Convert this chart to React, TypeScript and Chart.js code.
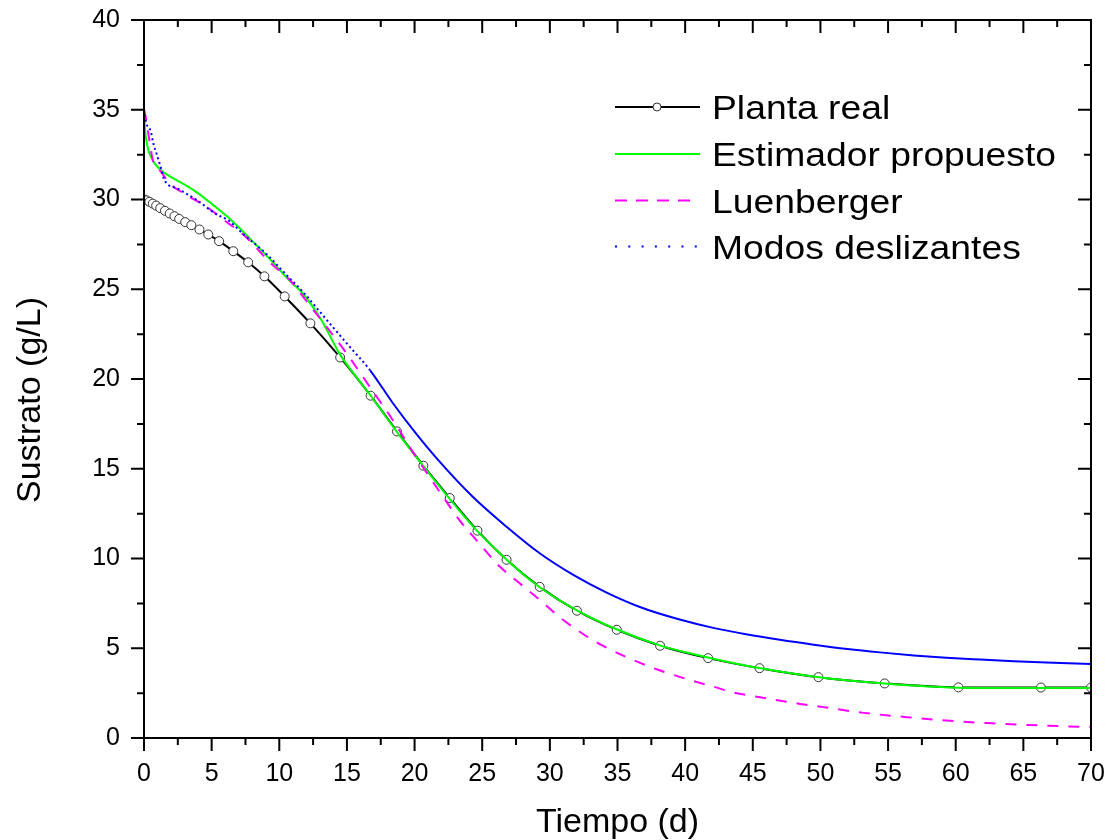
import React, { useEffect, useRef } from "react";
import { Chart, registerables } from "chart.js";

Chart.register(...registerables);

const FONT = 'Arial, "Liberation Sans", sans-serif';

const xTitle = "Tiempo (d)";
const yTitle = "Sustrato (g/L)";
const legendLabels = ["Planta real", "Estimador propuesto", "Luenberger", "Modos deslizantes"];

const xMin = 0;
const xMax = 70;
const xStep = 5;
const yMin = 0;
const yMax = 40;
const yStep = 5;

const plantaX = [0, 0.2, 0.4, 0.65, 0.9, 1.2, 1.55, 1.9, 2.25, 2.6, 3.05, 3.5, 4.1, 4.75, 5.55, 6.6, 7.7, 8.9, 10.4, 12.3, 14.5, 16.75, 18.7, 20.65, 22.6, 24.65, 26.8, 29.25, 32.0, 34.95, 38.15, 41.7, 45.5, 49.85, 54.75, 60.2, 66.3, 70];
const plantaY = [30.0, 29.95, 29.87, 29.77, 29.66, 29.52, 29.37, 29.22, 29.07, 28.92, 28.74, 28.57, 28.33, 28.05, 27.68, 27.12, 26.5, 25.72, 24.6, 23.1, 21.2, 19.07, 17.08, 15.17, 13.37, 11.55, 9.93, 8.42, 7.09, 6.03, 5.14, 4.45, 3.89, 3.39, 3.04, 2.82, 2.81, 2.81];

const estX = [0, 0.04, 0.1, 0.2, 0.3, 0.5, 0.8, 1.3, 2.0, 2.6, 3.9, 5.1, 6.3, 7.8, 9.4, 10.6, 11.75, 13.1, 14.46, 15.6, 16.68, 18.65, 20.13, 21.86, 24.57, 26.79, 29.13, 31.97, 34.93, 38.13, 40.35, 42.5, 45.6, 49.9, 54.75, 60.2, 65, 70];
const estY = [35.0, 34.3, 33.7, 33.2, 32.8, 32.4, 32.0, 31.6, 31.25, 31.0, 30.4, 29.7, 28.95, 27.85, 26.6, 25.6, 24.75, 23.3, 21.4, 20.2, 19.15, 17.1, 15.65, 14.0, 11.58, 9.95, 8.47, 7.13, 6.06, 5.16, 4.72, 4.35, 3.88, 3.38, 3.03, 2.8, 2.78, 2.78];

const luenX = [0, 0.1, 0.25, 0.4, 0.65, 1.0, 1.4, 1.75, 2.6, 4.6, 6.1, 7.55, 9.3, 10.8, 12.25, 13.5, 15.0, 16.7, 18.4, 19.9, 22.1, 23.3, 24.6, 26.3, 27.8, 29.25, 30.7, 32.2, 33.9, 35.7, 38.0, 40.35, 42.1, 43.55, 45.3, 48.5, 50.2, 53.2, 56.4, 59.3, 62.3, 65.5, 69.2, 70];
const luenY = [35.0, 34.7, 34.0, 33.3, 32.2, 31.8, 31.4, 31.0, 30.5, 29.6, 28.75, 27.9, 26.5, 25.5, 24.1, 22.9, 21.4, 19.55, 17.7, 15.9, 13.45, 12.15, 11.0, 9.55, 8.6, 7.7, 6.75, 5.92, 5.15, 4.5, 3.8, 3.23, 2.86, 2.54, 2.3, 1.9, 1.72, 1.4, 1.16, 0.97, 0.83, 0.72, 0.63, 0.62];

const modosX = [0, 0.15, 0.5, 0.7, 0.95, 1.27, 1.5, 2.5, 3.9, 5.3, 6.3, 7.3, 9.0, 10.4, 11.75, 13.5, 15.2, 16.7, 18.4, 20.1, 21.75, 24.3, 26.8, 29.25, 31.7, 34.2, 36.65, 39.6, 42.0, 44.5, 47.0, 49.5, 52.0, 54.4, 56.9, 59.3, 61.8, 64.3, 66.7, 70];
const modosY = [35.0, 34.3, 33.8, 33.1, 32.5, 31.7, 31.1, 30.6, 29.97, 29.2, 28.8, 28.1, 27.0, 25.9, 24.85, 23.3, 21.8, 20.5, 18.65, 16.97, 15.48, 13.44, 11.77, 10.29, 9.1, 8.1, 7.3, 6.6, 6.15, 5.78, 5.47, 5.2, 4.96, 4.77, 4.6, 4.47, 4.37, 4.28, 4.2, 4.12];

const modosDottedUntil = 16.7;

const toPoints = (xs: number[], ys: number[]) => xs.map((x, i) => ({ x, y: ys[i] }));

const framePlugin = {
  id: "frameTicks",
  afterDraw(chart: any) {
    const { ctx, chartArea } = chart;
    const { left, right, top, bottom } = chartArea;
    const xs = chart.scales.x;
    const ys = chart.scales.y;
    ctx.save();
    ctx.strokeStyle = "#000";
    ctx.lineWidth = 2;
    ctx.beginPath();
    ctx.rect(left, top, right - left, bottom - top);
    ctx.stroke();
    const majLen = 13;
    const minLen = 7;
    ctx.beginPath();
    const xt = xs.ticks.map((t: any) => t.value);
    xt.forEach((v: number, i: number) => {
      const px = xs.getPixelForValue(v);
      ctx.moveTo(px, bottom);
      ctx.lineTo(px, bottom + majLen);
      ctx.moveTo(px, top);
      ctx.lineTo(px, top + majLen);
      if (i < xt.length - 1) {
        const mp = xs.getPixelForValue((v + xt[i + 1]) / 2);
        ctx.moveTo(mp, bottom);
        ctx.lineTo(mp, bottom + minLen);
        ctx.moveTo(mp, top);
        ctx.lineTo(mp, top + minLen);
      }
    });
    const yt = ys.ticks.map((t: any) => t.value);
    yt.forEach((v: number, i: number) => {
      const py = ys.getPixelForValue(v);
      ctx.moveTo(left - majLen, py);
      ctx.lineTo(left, py);
      ctx.moveTo(right - majLen, py);
      ctx.lineTo(right, py);
      if (i < yt.length - 1) {
        const mp = ys.getPixelForValue((v + yt[i + 1]) / 2);
        ctx.moveTo(left - minLen, mp);
        ctx.lineTo(left, mp);
        ctx.moveTo(right - minLen, mp);
        ctx.lineTo(right, mp);
      }
    });
    ctx.stroke();

    ctx.fillStyle = "#000";
    ctx.font = `34px ${FONT}`;
    ctx.textAlign = "center";
    ctx.textBaseline = "middle";
    ctx.translate(31, 400);
    ctx.rotate(-Math.PI / 2);
    ctx.fillText(yTitle, 0, 0);
    ctx.restore();
  },
};

const legendPlugin = {
  id: "customLegend",
  afterDraw(chart: any) {
    const { ctx } = chart;
    const rows = [107, 154, 200.5, 246.5];
    const x0 = 615;
    const x1 = 700;
    const tx = 712;
    ctx.save();
    ctx.lineWidth = 2;
    ctx.strokeStyle = "#000";
    ctx.setLineDash([]);
    ctx.beginPath();
    ctx.moveTo(x0, rows[0]);
    ctx.lineTo(x1, rows[0]);
    ctx.stroke();
    ctx.beginPath();
    ctx.arc(657, rows[0], 4, 0, Math.PI * 2);
    ctx.fillStyle = "#fff";
    ctx.fill();
    ctx.lineWidth = 1;
    ctx.strokeStyle = "#333";
    ctx.stroke();
    ctx.lineWidth = 2;
    ctx.strokeStyle = "#00ff00";
    ctx.beginPath();
    ctx.moveTo(x0, rows[1]);
    ctx.lineTo(x1, rows[1]);
    ctx.stroke();
    ctx.strokeStyle = "#ff00ff";
    ctx.setLineDash([12, 9]);
    ctx.beginPath();
    ctx.moveTo(x0, rows[2]);
    ctx.lineTo(690, rows[2]);
    ctx.stroke();
    ctx.strokeStyle = "#0000ff";
    ctx.setLineDash([2, 11.3]);
    ctx.beginPath();
    ctx.moveTo(x0, rows[3]);
    ctx.lineTo(x1, rows[3]);
    ctx.stroke();
    ctx.setLineDash([]);
    ctx.fillStyle = "#000";
    ctx.font = `33px ${FONT}`;
    ctx.textAlign = "left";
    ctx.textBaseline = "alphabetic";
    legendLabels.forEach((lab, i) => {
      ctx.save();
      ctx.translate(tx, rows[i] + 12);
      ctx.scale(1.13, 1);
      ctx.fillText(lab, 0, 0);
      ctx.restore();
    });
    ctx.restore();
  },
};

export default function App() {
  const ref = useRef<HTMLCanvasElement | null>(null);

  useEffect(() => {
    if (!ref.current) return;
    const chart = new Chart(ref.current, {
      type: "line",
      data: {
        datasets: [
          {
            label: legendLabels[3],
            data: toPoints(modosX, modosY),
            borderColor: "#0000ff",
            borderWidth: 2,
            pointRadius: 0,
            fill: false,
            cubicInterpolationMode: "monotone",
            borderDash: [],
            segment: {
              borderDash: (c: any) => (c.p0.parsed.x < modosDottedUntil ? [2, 3] : []),
            },
            order: 0,
          },
          {
            label: legendLabels[2],
            data: toPoints(luenX, luenY),
            borderColor: "#ff00ff",
            borderWidth: 2,
            pointRadius: 0,
            fill: false,
            cubicInterpolationMode: "monotone",
            borderDash: [11, 10],
            order: 1,
          },
          {
            label: legendLabels[1],
            data: toPoints(estX, estY),
            borderColor: "#00ff00",
            borderWidth: 2,
            pointRadius: 0,
            fill: false,
            cubicInterpolationMode: "monotone",
            order: 2,
          },
          {
            label: legendLabels[0],
            data: toPoints(plantaX, plantaY),
            borderColor: "#000",
            borderWidth: 2,
            pointRadius: 4.5,
            pointBorderWidth: 1,
            pointBorderColor: "#333",
            pointBackgroundColor: "#fff",
            fill: false,
            cubicInterpolationMode: "monotone",
            order: 3,
          },
        ],
      },
      options: {
        responsive: false,
        animation: false,
        layout: { padding: { left: 0, right: 23, top: 20, bottom: 0 } },
        plugins: { legend: { display: false }, tooltip: { enabled: false } },
        scales: {
          x: {
            type: "linear",
            min: xMin,
            max: xMax,
            ticks: {
              stepSize: xStep,
              font: { family: FONT, size: 25 },
              color: "#000",
              padding: 0,
              maxRotation: 0,
              autoSkip: false,
            },
            grid: { display: false, drawTicks: true, tickLength: 21 },
            border: { display: false },
            title: {
              display: true,
              text: xTitle,
              color: "#000",
              font: { family: FONT, size: 34, lineHeight: 1 },
              padding: { top: 0, bottom: 0 },
            },
            afterFit: (s: any) => {
              s.height = 102;
            },
          },
          y: {
            type: "linear",
            min: yMin,
            max: yMax,
            ticks: {
              stepSize: yStep,
              font: { family: FONT, size: 25 },
              color: "#000",
              padding: 0,
            },
            grid: { display: false, drawTicks: true, tickLength: 24 },
            border: { display: false },
            title: { display: false },
            afterFit: (s: any) => {
              s.width = 144;
            },
          },
        },
      },
      plugins: [framePlugin, legendPlugin],
    } as any);
    return () => chart.destroy();
  }, []);

  return (
    <div style={{ position: "absolute", left: 0, top: 0, width: 1114, height: 840, background: "#fff" }}>
      <canvas ref={ref} width={1114} height={840} style={{ display: "block", width: 1114, height: 840 }} />
    </div>
  );
}
